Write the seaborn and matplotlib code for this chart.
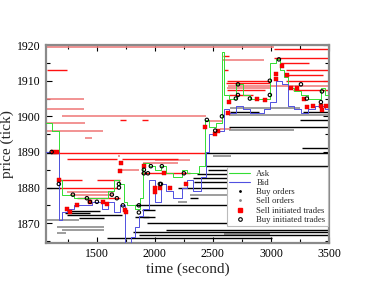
import numpy as np
import pandas as pd
import matplotlib
matplotlib.use("Agg")
import matplotlib.pyplot as plt
import seaborn as sns
from matplotlib.lines import Line2D
from matplotlib.ticker import MultipleLocator

# best ask / best bid (step series)
ask_time = [1060, 1110, 1170, 1200, 1240, 1300, 1380, 1460, 1540, 1600,
            1650, 1690, 1730, 1760, 1830, 1870, 1900, 1950, 2000, 2050,
            2100, 2160, 2230, 2280, 2330, 2380, 2430, 2470, 2530, 2580,
            2600, 2640, 2700, 2760, 2820, 2880, 2940, 2990, 3040, 3080,
            3110, 3150, 3200, 3260, 3320, 3380, 3430, 3470, 3500]
ask_price = [1898, 1896, 1882, 1878, 1878, 1877, 1877, 1877, 1877, 1879,
             1882, 1881, 1876, 1875, 1874, 1877, 1887, 1886, 1885, 1886,
             1884, 1883, 1885, 1884, 1884, 1886, 1899, 1897, 1898, 1918,
             1906, 1905, 1909, 1906, 1905, 1905, 1905, 1915, 1916, 1913,
             1911, 1908, 1907, 1906, 1905, 1905, 1908, 1906, 1906]

bid_time = [1060, 1170, 1200, 1240, 1300, 1380, 1460, 1540, 1600, 1650,
            1700, 1740, 1790, 1830, 1860, 1900, 1950, 2000, 2050, 2100,
            2160, 2230, 2280, 2330, 2400, 2440, 2470, 2530, 2600, 2640,
            2700, 2760, 2820, 2880, 2940, 2990, 3040, 3100, 3150, 3200,
            3260, 3320, 3380, 3430, 3470, 3500]
bid_price = [1890, 1871, 1873, 1874, 1875, 1875, 1876, 1874, 1876, 1873,
             1875, 1864.5, 1866, 1869, 1872, 1874, 1882, 1876, 1881, 1879,
             1877, 1880, 1882, 1879, 1883, 1890, 1895, 1896, 1902, 1901,
             1903, 1902, 1901, 1901, 1902, 1904, 1910, 1909, 1903, 1902,
             1901, 1902, 1903, 1903, 1902, 1902]

# limit sell orders (start, end, price)
sell_start = [3030, 3030, 3080, 3130, 3150, 2620, 3130, 2610, 2620, 3190,
              2640, 1070, 1700, 1890, 1155, 1240, 1720, 1880, 1175, 1500,
              1175, 1330, 2590, 2600]
sell_end = [3500, 3500, 3330, 3500, 3450, 2990, 3500, 2990, 2950, 3500,
            2850, 1240, 1750, 1940, 2420, 1670, 2200, 2300, 1370, 1700,
            1670, 1700, 2640, 2630]
sell_price = [1918.8, 1916.5, 1915, 1913, 1911.5, 1910, 1910, 1909.3, 1907.4, 1907.4,
              1906, 1913, 1899, 1899, 1889.7, 1888, 1888, 1884, 1882, 1882,
              1880, 1877, 1917, 1913]

# older sell orders (lighter)
sell_old_start = [1060, 2590, 1060, 1060, 1200, 1060, 1070, 1400, 2460, 2560,
                  2630, 1240, 1270, 1900, 1700, 1680, 2620, 2000]
sell_old_end = [3030, 2940, 1390, 1390, 2440, 1400, 1550, 1460, 2580, 2660,
                3500, 1650, 1650, 2200, 1860, 1700, 2990, 2300]
sell_old_price = [1919.6, 1915.8, 1904.8, 1902, 1900, 1898, 1896, 1894, 1898.6, 1896.5,
                  1908.5, 1878.7, 1877.8, 1886.8, 1885, 1888.9, 1908, 1887.7]

# limit buy orders (start, end, price)
buy_start = [1060, 1069, 2420, 2440, 2460, 2360, 2330, 2340, 2200, 2300,
             1830, 1270, 1240, 1900, 1930, 2100, 1810, 1860, 1590, 2650,
             3280, 3250, 2640, 3270, 1890, 1830, 1225, 1350]
buy_end = [1160, 1180, 3500, 3500, 3500, 2760, 2760, 2760, 3500, 2370,
           3500, 1530, 1720, 1950, 3500, 3500, 3500, 3500, 3010, 2900,
           3500, 3500, 3500, 3500, 2000, 2000, 1440, 1560]
buy_price = [1889.7, 1880, 1889.7, 1886, 1884.9, 1883.8, 1882.6, 1881.5, 1880, 1877,
             1875, 1873.3, 1872.4, 1871.6, 1870, 1868, 1867.5, 1866.6, 1865.9, 1901.2,
             1901.2, 1899, 1897, 1891, 1873.6, 1871.7, 1872.8, 1871.4]

# older buy orders (lighter)
buy_old_start = [1060, 1160, 1200, 1160, 2500, 2600, 2300, 2200, 2650, 2640, 2640]
buy_old_end = [1350, 1560, 1560, 1230, 2660, 2990, 2760, 2280, 3250, 3500, 3200]
buy_old_price = [1871, 1868.9, 1868, 1867.2, 1888.8, 1867, 1877.8, 1876, 1902.3, 1900.3, 1896.2]

# trades
buy_trade_time = [1172, 1293, 1414, 1440, 1500, 1629, 1690, 1690, 1672, 1724,
                  1862, 1862, 1905, 1905, 1965, 2060, 2052, 2250, 2448, 2520,
                  2578, 2698, 2716, 2716, 2819, 2991, 2991, 3069, 3259, 3310,
                  3440, 3431, 1940, 2043, 1110]
buy_trade_price = [1881, 1878, 1877, 1876, 1876, 1878, 1881, 1880, 1877, 1875,
                   1875, 1873, 1885, 1884, 1886, 1886, 1881, 1884, 1899, 1896,
                   1900, 1905, 1909, 1906, 1905, 1910, 1906, 1916, 1909, 1905,
                   1907, 1904, 1884, 1881, 1890]
sell_trade_time = [1120, 1155, 1172, 1241, 1267, 1328, 1440, 1552, 1586, 1698,
                   1707, 1741, 1750, 1905, 2000, 2000, 2040, 2078, 2129, 2270,
                   2431, 2517, 2540, 2629, 2640, 2879, 2948, 3043, 3043, 3095,
                   3138, 3172, 3224, 3284, 3310, 3362, 3431, 3474, 3440]
sell_trade_price = [1890, 1890, 1882, 1874, 1873, 1875, 1876, 1876, 1875.4, 1884.6,
                    1887, 1873.6, 1873, 1886, 1880, 1878.7, 1880, 1884, 1880, 1881,
                    1897, 1895, 1896, 1901, 1904, 1905, 1904.5, 1912, 1910.6, 1914,
                    1911.6, 1908, 1908, 1905, 1902.6, 1903, 1903, 1903, 1901.7]

sns.set_theme(style="ticks")
plt.rcParams['font.family'] = ['Liberation Serif', 'DejaVu Serif']

fig = plt.figure(figsize=(3.82, 2.95), dpi=100)
ax = fig.add_axes([0.120, 0.176, 0.741, 0.671])

# order book lines
ax.hlines(sell_old_price, sell_old_start, sell_old_end, color='#f08080', lw=1.2, zorder=1)
ax.hlines(buy_old_price, buy_old_start, buy_old_end, color='#8c8c8c', lw=1.2, zorder=1)
ax.hlines(sell_price, sell_start, sell_end, color='#ff1010', lw=1.0, zorder=2)
ax.hlines(buy_price, buy_start, buy_end, color='black', lw=1.0, zorder=2)

ask_df = pd.DataFrame({'time': ask_time, 'price': ask_price})
bid_df = pd.DataFrame({'time': bid_time, 'price': bid_price})
sns.lineplot(data=ask_df, x='time', y='price', ax=ax, color='#33dd33', lw=0.7,
             drawstyle='steps-post', estimator=None, sort=False, zorder=3)
sns.lineplot(data=bid_df, x='time', y='price', ax=ax, color='#5050e0', lw=0.7,
             drawstyle='steps-post', estimator=None, sort=False, zorder=3)

sns.scatterplot(x=sell_trade_time, y=sell_trade_price, ax=ax, marker='s', s=6,
                color='#ff0000', edgecolor='#dd0000', linewidth=0.3, zorder=4)
sns.scatterplot(x=buy_trade_time, y=buy_trade_price, ax=ax, marker='o', s=6,
                facecolor='none', edgecolor='black', linewidth=0.8, zorder=5)

ax.set_xlim(1060, 3500)
ax.set_ylim(1864.4, 1920)
ax.xaxis.set_major_locator(MultipleLocator(500))
ax.xaxis.set_minor_locator(MultipleLocator(250))
ax.yaxis.set_major_locator(MultipleLocator(10))
ax.yaxis.set_minor_locator(MultipleLocator(5))
ax.tick_params(which='both', direction='in', top=True, right=True,
               labelsize=8.5, colors='black', width=0.8)
ax.tick_params(which='major', length=4)
ax.tick_params(which='minor', length=3)
for sp in ax.spines.values():
    sp.set_color('#8a8a8a')
    sp.set_linewidth(1.6)

ax.set_xlabel('time (second)', fontsize=11, labelpad=2)
ax.set_ylabel('price (tick)', fontsize=11, labelpad=2)

handles = [
    Line2D([], [], color='#33dd33', lw=0.8),
    Line2D([], [], color='#5050e0', lw=0.8),
    Line2D([], [], ls='none', marker='.', ms=2, color='black'),
    Line2D([], [], ls='none', marker='.', ms=2, color='#888888'),
    Line2D([], [], ls='none', marker='s', ms=2.2, color='#ff0000'),
    Line2D([], [], ls='none', marker='o', ms=2.6, mfc='none', mec='black', mew=0.8),
]
labels = ['Ask', 'Bid', 'Buy orders', 'Sell orders', 'Sell initiated trades', 'Buy initiated trades']
leg = ax.legend(handles, labels, loc='lower right', bbox_to_anchor=(1.0, 0.08),
                fontsize=6.3, frameon=True, fancybox=False, framealpha=1,
                handlelength=2.4, labelspacing=0.12, borderpad=0.3, handletextpad=0.7,
                borderaxespad=0.1)
leg.get_frame().set_edgecolor('#bbbbbb')
leg.get_frame().set_linewidth(0.8)
leg.set_zorder(10)

fig.savefig('out.png', dpi=100)
